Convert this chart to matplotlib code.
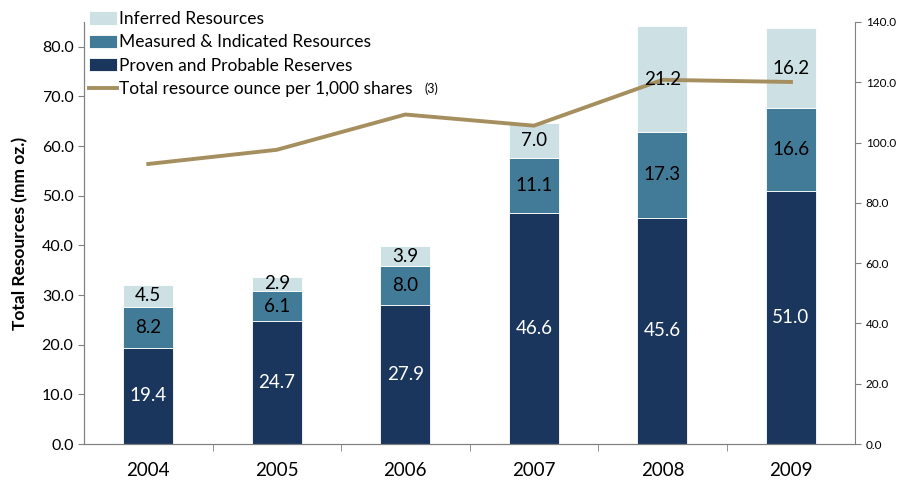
import matplotlib.pyplot as plt
import numpy as np

plt.rcParams['font.family'] = ['Lato', 'DejaVu Sans']

years = ["2004", "2005", "2006", "2007", "2008", "2009"]
proven = [19.4, 24.7, 27.9, 46.6, 45.6, 51.0]
measured = [8.2, 6.1, 8.0, 11.1, 17.3, 16.6]
inferred = [4.5, 2.9, 3.9, 7.0, 21.2, 16.2]
oz_per_1000 = [92.9, 97.6, 109.3, 105.6, 120.8, 120.1]

c_proven = "#1b365d"
c_measured = "#417b97"
c_inferred = "#cde0e4"
c_line = "#a58f5e"
c_axis = "#808080"

fig = plt.figure(figsize=(9.01, 4.84), dpi=100)
ax = fig.add_axes([0.0932, 0.0826, 0.856, 0.872])
ax2 = ax.twinx()

x = np.arange(len(years))
w = 0.39
b1 = ax.bar(x, proven, w, color=c_proven, edgecolor="white", linewidth=0.6,
            label="Proven and Probable Reserves", zorder=2)
b2 = ax.bar(x, measured, w, bottom=proven, color=c_measured, edgecolor="white",
            linewidth=0.6, label="Measured & Indicated Resources", zorder=2)
bottom3 = np.array(proven) + np.array(measured)
b3 = ax.bar(x, inferred, w, bottom=bottom3, color=c_inferred, edgecolor="white",
            linewidth=0.6, label="Inferred Resources", zorder=2)

ln, = ax2.plot(x, oz_per_1000, color=c_line, linewidth=2.8,
               label="Total resource ounce per 1,000 shares")

# labels drawn on ax2 so they sit above the line; convert left-axis values
k = 140 / 85
for i in range(len(years)):
    ax2.text(x[i], proven[i] / 2 * k, f"{proven[i]:.1f}", ha="center",
             va="center", color="white", fontsize=13.5, zorder=5)
    ax2.text(x[i], (proven[i] + measured[i] / 2) * k, f"{measured[i]:.1f}",
             ha="center", va="center", color="black", fontsize=13.5, zorder=5)
    ax2.text(x[i], (bottom3[i] + inferred[i] / 2) * k, f"{inferred[i]:.1f}",
             ha="center", va="center", color="black", fontsize=13.5, zorder=5)

ax.set_xlim(-0.5, 5.5)
ax.set_ylim(0, 85)
ax2.set_ylim(0, 140)
ax.set_yticks(np.arange(0, 81, 10))
ax.set_yticklabels([f"{v:.1f}" for v in np.arange(0, 81, 10)], fontsize=11.5)
ax2.set_yticks(np.arange(0, 141, 20))
ax2.set_yticklabels([f"{v:.1f}" for v in np.arange(0, 141, 20)], fontsize=8.5)
ax.set_xticks(x)
ax.set_xticklabels(years, fontsize=13.5)
ax.set_xticks(np.arange(0.5, 5.5, 1), minor=True)
ax.tick_params(axis="x", which="major", length=0, pad=13)
ax.tick_params(axis="x", which="minor", length=5, color=c_axis)
ax.tick_params(axis="y", length=4, color=c_axis)
ax2.tick_params(axis="y", length=4, color=c_axis)
ax.set_ylabel("Total Resources (mm oz.)", fontsize=12.5, fontweight="bold",
              labelpad=10)

for a in (ax, ax2):
    a.spines["top"].set_visible(False)
    for s in ("left", "right", "bottom"):
        a.spines[s].set_color(c_axis)
ax.spines["right"].set_visible(False)

leg = fig.legend(handles=[b3, b2, b1, ln], loc="upper left",
                 bbox_to_anchor=(0.094, 0.986), frameon=False, fontsize=12.5,
                 handlelength=1.6, handleheight=0.8, handletextpad=0.1,
                 labelspacing=0.42, borderaxespad=0.05, borderpad=0.2)

# footnote marker just right of the last legend entry
fig.canvas.draw()
bb = leg.get_texts()[-1].get_window_extent()
fig.text((bb.x1 + 12) / fig.bbox.width, (bb.y1 - 1) / fig.bbox.height, "(3)",
         fontsize=9, va="top")

fig.savefig("out.png", dpi=100)
